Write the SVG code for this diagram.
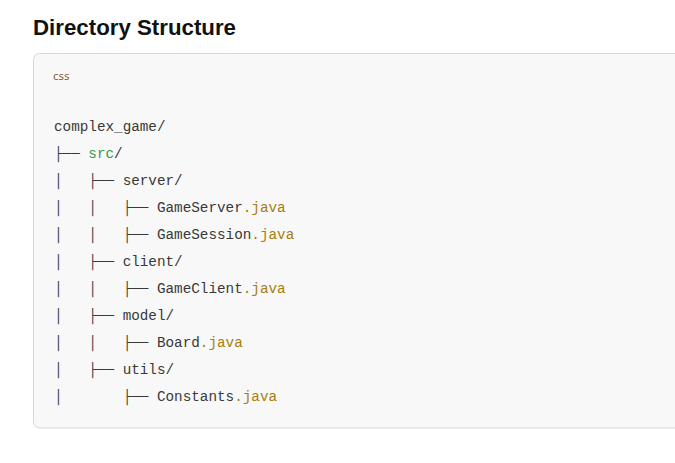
<svg xmlns="http://www.w3.org/2000/svg" width="675" height="463" viewBox="0 0 675 463">
<style>
.title{font-family:"Liberation Sans",Arial,sans-serif;font-weight:bold;font-size:21.5px;fill:#111}
.lang{font-family:"Noto Sans","Liberation Sans",sans-serif;font-size:11.5px;fill:#8a5a3a}
.code{font-family:"Liberation Mono","DejaVu Sans Mono",monospace;font-size:14.3px;fill:#383838;white-space:pre}
.dir{fill:#3d9a40}
.ext{fill:#a87d0a}
</style>
<rect width="675" height="463" fill="#ffffff"/>
<text class="title" x="33" y="35" textLength="203" lengthAdjust="spacingAndGlyphs">Directory Structure</text>
<g id="codeblock">
<rect x="33.5" y="53.5" width="660" height="374.5" rx="6" fill="#f8f8f8" stroke="#d6d6d6"/>
<text class="lang" x="53" y="80">css</text>
</g>
<g id="tree">
<text class="code" x="54" y="131" xml:space="preserve">complex_game/</text>
<text class="code" x="54" y="158" xml:space="preserve">├── <tspan class="dir">src</tspan>/</text>
<text class="code" x="54" y="185" xml:space="preserve">│   ├── server/</text>
<text class="code" x="54" y="212" xml:space="preserve">│   │   ├── GameServer<tspan class="ext">.java</tspan></text>
<text class="code" x="54" y="239" xml:space="preserve">│   │   ├── GameSession<tspan class="ext">.java</tspan></text>
<text class="code" x="54" y="266" xml:space="preserve">│   ├── client/</text>
<text class="code" x="54" y="293" xml:space="preserve">│   │   ├── GameClient<tspan class="ext">.java</tspan></text>
<text class="code" x="54" y="320" xml:space="preserve">│   ├── model/</text>
<text class="code" x="54" y="347" xml:space="preserve">│   │   ├── Board<tspan class="ext">.java</tspan></text>
<text class="code" x="54" y="374" xml:space="preserve">│   ├── utils/</text>
<text class="code" x="54" y="401" xml:space="preserve">│       ├── Constants<tspan class="ext">.java</tspan></text>
</g>
</svg>
